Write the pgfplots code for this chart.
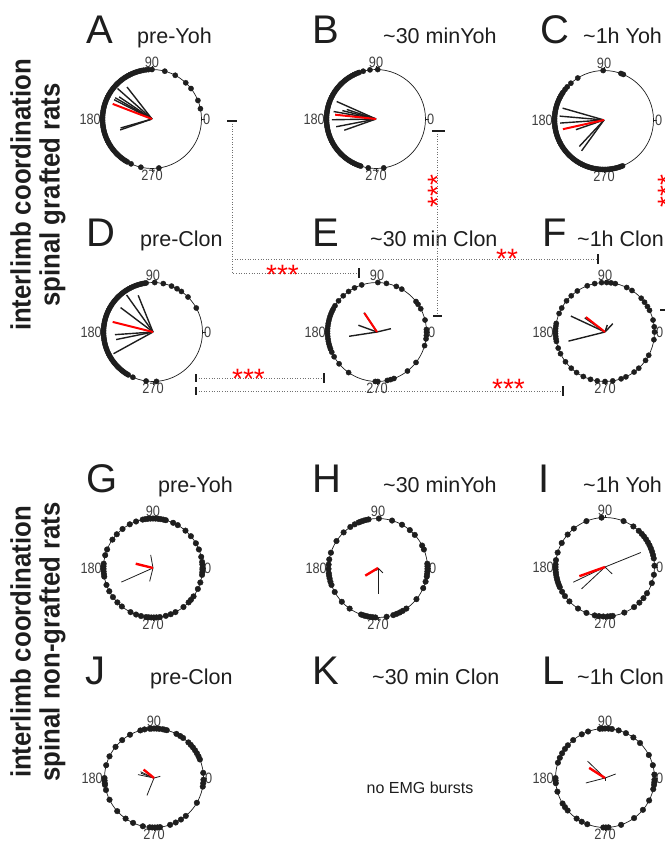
\documentclass[border=0pt]{standalone}
\usepackage{pgfplots}
\pgfplotsset{compat=1.18}
\usepgfplotslibrary{polar}
\usepackage{fontspec}
\setmainfont{Liberation Sans}
\newfontfamily\narrowfont[FakeStretch=0.85]{Liberation Sans}
\newfontfamily\sidefont[FakeStretch=0.92]{Liberation Sans}
\definecolor{ink}{HTML}{1E1E1E}
\definecolor{conn}{HTML}{707070}
\pgfplotsset{
  circ/.style={
    scale only axis, width=99pt, height=99pt, anchor=center,
    ymin=0, ymax=1,
    xtick={0,90,180,270}, xticklabels={0,90,180,270},
    ytick=\empty, grid=none, xmajorgrids=false, ymajorgrids=false,
    axis line style={ink, line width=0.7pt},
    y axis line style={draw=none},
    tick style={ink, line width=0.6pt},
    major tick length=3pt,
    ticklabel style={font=\narrowfont\fontsize{15}{15}\selectfont, text=ink!85, inner sep=1.5pt},
    clip=false,
  },
  dots/.style={only marks, mark=*, mark size=2.6pt, ink, mark options={draw=none, fill=ink}},
  bdots/.style={only marks, mark=*, mark size=2.8pt, ink, mark options={draw=none, fill=ink}},
}
\newcommand{\ray}[2]{\addplot[ink, line width=1.4pt, no marks] coordinates {(0,0) (#1,#2)};}
\newcommand{\tray}[2]{\addplot[ink, line width=0.8pt, no marks] coordinates {(0,0) (#1,#2)};}
\newcommand{\rray}[2]{\addplot[red, line width=2pt, no marks] coordinates {(0,0) (#1,#2)};}
\newcommand{\trray}[2]{\addplot[red, line width=2.4pt, no marks] coordinates {(0,0) (#1,#2)};}
\begin{document}
\begin{tikzpicture}[x=1pt,y=1pt]
\useasboundingbox (0,0) rectangle (664,-845);
% ---------- titles ----------
\tikzset{let/.style={anchor=base west, inner sep=0, text=ink, font=\fontsize{40}{40}\selectfont},
         sub/.style={anchor=base west, inner sep=0, text=ink, font=\fontsize{21.5}{21.5}\selectfont}}
\node[let] at (86,-44) {A};  \node[sub] at (137,-44) {pre-Yoh};
\node[let] at (312,-44) {B}; \node[sub] at (383,-44) {\textasciitilde30 minYoh};
\node[let] at (540,-44) {C}; \node[sub] at (583,-44) {\textasciitilde1h Yoh};
\node[let] at (86,-246) {D};  \node[sub] at (140,-246) {pre-Clon};
\node[let] at (312,-246) {E}; \node[sub] at (370,-246) {\textasciitilde30 min Clon};
\node[let] at (542,-246) {F}; \node[sub] at (577,-246) {\textasciitilde1h Clon};
\node[let] at (86,-492) {G};  \node[sub] at (158,-492) {pre-Yoh};
\node[let] at (312,-492) {H}; \node[sub] at (383,-492) {\textasciitilde30 minYoh};
\node[let] at (538,-492) {I}; \node[sub] at (583,-492) {\textasciitilde1h Yoh};
\node[let] at (85,-684) {J};  \node[sub] at (150,-684) {pre-Clon};
\node[let] at (312,-684) {K}; \node[sub] at (372,-684) {\textasciitilde30 min Clon};
\node[let] at (542,-684) {L}; \node[sub] at (577,-684) {\textasciitilde1h Clon};
\node[inner sep=0, text=ink, font=\fontsize{16}{16}\selectfont] at (420,-788) {no EMG bursts};
% side titles
\node[rotate=90, align=center, inner sep=0, text=ink, font=\sidefont\bfseries\fontsize{28}{29}\selectfont] at (38,-195) {interlimb coordination\\spinal grafted rats};
\node[rotate=90, align=center, inner sep=0, text=ink, font=\sidefont\bfseries\fontsize{28}{29}\selectfont] at (38,-642) {interlimb coordination\\spinal non-grafted rats};
% ---------- connectors ----------
\tikzset{cl/.style={conn, line width=0.8pt, dash pattern=on 1pt off 1.6pt},
         tk/.style={ink, line width=1.1pt},
         st/.style={inner sep=0, text=red, font=\fontsize{28}{28}\selectfont}}
\draw[cl] (232,-121) -- (232,-273) -- (359,-273);
\draw[cl] (232,-259) -- (598,-259);
\draw[tk] (227,-121) -- (237,-121);
\draw[tk] (359,-268) -- (359,-278);
\draw[tk] (598,-254) -- (598,-264);
\node[st, anchor=base west] at (266,-284) {***};
\node[st, anchor=base west] at (496,-268) {**};
\draw[cl] (437,-131) -- (437,-316);
\draw[tk] (432,-131) -- (445,-131);
\draw[tk] (433,-316) -- (442,-316);
\node[st, rotate=90] at (438,-191) {***};
\node[st, rotate=90] at (668,-191) {***};
\draw[tk] (660,-310) -- (670,-310);
\draw[cl] (196,-378) -- (324,-378);
\draw[tk] (196,-374) -- (196,-382);
\draw[tk] (324,-373) -- (324,-383);
\node[st, anchor=base west] at (232,-388) {***};
\draw[cl] (196,-391) -- (563,-391);
\draw[tk] (196,-387) -- (196,-395);
\draw[tk] (563,-386) -- (563,-396);
\node[st, anchor=base west] at (492,-398) {***};
% ---------- A ----------
\begin{polaraxis}[circ, at={(152pt,-119pt)}]
\addplot[dots] coordinates {(12,1)(22,1)(38,1)(47,1)(62,1)(75,1)(90,1)(94,1)(97,1)(100,1)(102,1)(104,1)(106,1)(108,1)(110,1)(112,1)(114,1)(116,1)(118,1)(120,1)(122,1)(124,1)(126,1)(128,1)(130,1)(132,1)(134,1)(136,1)(138,1)(140,1)(142,1)(144,1)(146,1)(148,1)(150,1)(152,1)(154,1)(156,1)(158,1)(160,1)(162,1)(164,1)(166,1)(168,1)(170,1)(172,1)(174,1)(176,1)(178,1)(180,1)(182,1)(184,1)(186,1)(188,1)(190,1)(192,1)(194,1)(196,1)(198,1)(200,1)(202,1)(204,1)(206,1)(208,1)(210,1)(212,1)(214,1)(216,1)(218,1)(220,1)(222,1)(224,1)(226,1)(228,1)(230,1)(232,1)(234,1)(236,1)(238,1)(240,1)(245,1)(257,1)(278,1)};
\ray{128}{0.82}\ray{138.5}{0.93}\ray{146}{0.8}\ray{150}{0.86}\ray{153}{0.86}\ray{196}{0.66}\ray{199}{0.68}
\rray{159}{0.85}
\end{polaraxis}
% ---------- B ----------
\begin{polaraxis}[circ, at={(376pt,-119pt)}]
\addplot[dots] coordinates {(88,1)(97,1)(105,1)(110,1)(112,1)(114,1)(116,1)(118,1)(120,1)(122,1)(124,1)(126,1)(128,1)(130,1)(132,1)(134,1)(136,1)(138,1)(140,1)(142,1)(144,1)(146,1)(148,1)(150,1)(152,1)(154,1)(156,1)(158,1)(160,1)(162,1)(164,1)(166,1)(168,1)(170,1)(172,1)(174,1)(176,1)(178,1)(180,1)(182,1)(184,1)(186,1)(188,1)(190,1)(192,1)(194,1)(196,1)(198,1)(200,1)(202,1)(204,1)(206,1)(208,1)(210,1)(212,1)(214,1)(216,1)(218,1)(220,1)(222,1)(224,1)(226,1)(228,1)(230,1)(232,1)(234,1)(236,1)(238,1)(240,1)(242,1)(244,1)(246,1)(248,1)(250,1)(252,1)(261,1)(279,1)};
\ray{156}{0.87}\ray{162}{0.62}\ray{166}{0.7}\ray{170}{0.87}\ray{181}{0.89}\ray{191}{0.82}\ray{199.5}{0.68}
\rray{174}{0.83}
\end{polaraxis}
% ---------- C ----------
\begin{polaraxis}[circ, at={(604pt,-120pt)}]
\addplot[dots] coordinates {(67,1)(70,1)(91,1)(122,1)(132,1)(138,1)(142,1)(146,1)(148,1)(150,1)(152,1)(154,1)(156,1)(158,1)(160,1)(162,1)(164,1)(166,1)(168,1)(170,1)(172,1)(174,1)(176,1)(178,1)(180,1)(182,1)(184,1)(186,1)(188,1)(190,1)(192,1)(194,1)(196,1)(198,1)(200,1)(202,1)(204,1)(206,1)(208,1)(210,1)(212,1)(214,1)(216,1)(218,1)(220,1)(222,1)(224,1)(226,1)(228,1)(230,1)(232,1)(234,1)(236,1)(238,1)(240,1)(242,1)(244,1)(246,1)(248,1)(250,1)(252,1)(254,1)(256,1)(258,1)(260,1)(262,1)(264,1)(266,1)(268,1)(270,1)(272,1)(274,1)(276,1)(278,1)(280,1)(282,1)(284,1)(286,1)(288,1)(290,1)(292,1)};
\ray{164}{0.87}\ray{175}{0.9}\ray{184}{0.89}\ray{199}{0.6}\ray{227}{0.73}\ray{234}{0.77}
\rray{192.6}{0.85}
\end{polaraxis}
% ---------- D ----------
\begin{polaraxis}[circ, at={(153pt,-332pt)}]
\addplot[dots] coordinates {(29,1)(45,1)(55,1)(61,1)(68,1)(78,1)(88,1)(98,1)(100,1)(102,1)(104,1)(106,1)(108,1)(110,1)(112,1)(114,1)(116,1)(118,1)(120,1)(122,1)(124,1)(126,1)(128,1)(130,1)(132,1)(134,1)(136,1)(138,1)(140,1)(142,1)(144,1)(146,1)(148,1)(150,1)(152,1)(154,1)(156,1)(158,1)(160,1)(162,1)(164,1)(166,1)(168,1)(170,1)(172,1)(174,1)(176,1)(178,1)(180,1)(182,1)(184,1)(186,1)(188,1)(190,1)(192,1)(194,1)(196,1)(198,1)(200,1)(202,1)(204,1)(206,1)(208,1)(210,1)(212,1)(214,1)(216,1)(218,1)(220,1)(222,1)(224,1)(226,1)(228,1)(230,1)(232,1)(234,1)(236,1)(238,1)(240,1)(246,1)(262,1)(274,1)};
\ray{112}{0.8}\ray{125.5}{0.92}\ray{143}{0.82}\ray{184}{0.77}\ray{191.6}{0.76}\ray{208.8}{0.91}
\rray{166}{0.84}
\end{polaraxis}
% ---------- E ----------
\begin{polaraxis}[circ, at={(377pt,-332pt)}]
\addplot[dots] coordinates {(0,1)(3,1)(14,1)(28,1)(34,1)(38,1)(60,1)(67,1)(79,1)(89,1)(108,1)(117,1)(125,1)(133,1)(141,1)(148,1)(152,1)(155,1)(158,1)(161,1)(164,1)(167,1)(170,1)(173,1)(176,1)(179,1)(182,1)(185,1)(188,1)(191,1)(194,1)(197,1)(200,1)(204,1)(210,1)(220,1)(235,1)(268,1)(271,1)(282,1)(286,1)(290,1)(308,1)(322,1)(344,1)(352,1)(356,1)};
\ray{124}{0.47}\ray{160}{0.4}\ray{188.7}{0.57}\ray{13.4}{0.29}
\rray{123.7}{0.46}
\end{polaraxis}
% ---------- F ----------
\begin{polaraxis}[circ, at={(605pt,-332pt)}]
\addplot[dots] coordinates {(0,1)(6,1)(14,1)(26,1)(31,1)(37,1)(43,1)(57,1)(64,1)(78,1)(83,1)(88,1)(94,1)(102,1)(111,1)(124,1)(133,1)(141,1)(151,1)(158,1)(170,1)(173,1)(176,1)(179,1)(182,1)(185,1)(188,1)(191,1)(199,1)(206,1)(217,1)(227,1)(235,1)(244,1)(253,1)(261,1)(270,1)(279,1)(289,1)(295,1)(306,1)(313,1)(325,1)(332,1)(351,1)};
\ray{155}{0.76}\ray{194}{0.76}\ray{47}{0.23}\ray{72}{0.15}\ray{145}{0.5}
\rray{142}{0.49}
\end{polaraxis}
% ---------- G ----------
\begin{polaraxis}[circ, at={(153pt,-568pt)}]
\addplot[bdots] coordinates {(0,1)(4,1)(7,1)(13,1)(22,1)(30,1)(40,1)(49,1)(60,1)(66,1)(75,1)(78,1)(81,1)(84,1)(87,1)(90,1)(93,1)(96,1)(99,1)(102,1)(110,1)(118,1)(128,1)(137,1)(145,1)(158,1)(165,1)(175,1)(178,1)(181,1)(184,1)(187,1)(190,1)(200,1)(208,1)(216,1)(224,1)(231,1)(243,1)(250,1)(256,1)(262,1)(265,1)(268,1)(271,1)(274,1)(278,1)(285,1)(291,1)(297,1)(308,1)(316,1)(320,1)(325,1)(335,1)(343,1)(352,1)(355,1)(358,1)};
\tray{204}{0.7}\tray{100}{0.27}\tray{256}{0.28}
\trray{166}{0.36}
\end{polaraxis}
% ---------- H ----------
\begin{polaraxis}[circ, at={(378pt,-568pt)}]
\addplot[bdots] coordinates {(2,1)(5,1)(22,1)(27,1)(42,1)(50,1)(61,1)(73.5,1)(89,1)(101,1)(104,1)(107,1)(110,1)(113,1)(118,1)(124,1)(134,1)(147,1)(162,1)(170,1)(176,1)(181,1)(186,1)(189,1)(192,1)(196,1)(200,1)(209,1)(223,1)(235,1)(250,1)(253,1)(255,1)(258,1)(261,1)(264,1)(267,1)(280,1)(288,1)(292,1)(296,1)(300,1)(305,1)(321,1)(336,1)(344,1)(350,1)(353,1)(356,1)(359,1)};
\tray{270}{0.53}\tray{315}{0.14}\tray{240}{0.06}
\trray{211}{0.3}
\end{polaraxis}
% ---------- I ----------
\begin{polaraxis}[circ, at={(605pt,-567pt)}]
\addplot[bdots] coordinates {(1.5,1)(10,1)(14,1)(18,1)(22,1)(26,1)(30,1)(34,1)(38,1)(42,1)(47,1)(55,1)(68,1)(94,1)(112,1)(129,1)(139,1)(151,1)(163,1)(172,1)(177,1)(180,1)(183,1)(186,1)(189,1)(192,1)(195,1)(198,1)(201,1)(204,1)(210,1)(216,1)(224,1)(237,1)(248,1)(258,1)(263,1)(268,1)(273,1)(276,1)(279,1)(293,1)(306,1)(314,1)(321,1)(328,1)(341,1)(351,1)};
\tray{22}{0.78}\tray{205.6}{0.71}\tray{223}{0.65}\tray{316}{0.2}
\trray{199.7}{0.55}
\end{polaraxis}
% ---------- J ----------
\begin{polaraxis}[circ, at={(154pt,-778pt)}]
\addplot[bdots] coordinates {(6,1)(22,1)(26,1)(30,1)(34,1)(38,1)(42,1)(46,1)(54,1)(58,1)(63,1)(75,1)(78,1)(80,1)(84,1)(87,1)(90,1)(93,1)(95,1)(101,1)(106,1)(119,1)(130,1)(141,1)(154,1)(165,1)(180,1)(183,1)(186,1)(188,1)(194,1)(206,1)(222,1)(235,1)(245,1)(257,1)(265,1)(268,1)(271,1)(274,1)(277,1)(289,1)(296,1)(303,1)(310,1)(330,1)(350,1)(354,1)(358,1)};
\tray{248}{0.38}\tray{168}{0.33}\tray{155}{0.3}\tray{160}{0.28}\tray{15}{0.13}
\trray{141}{0.27}
\end{polaraxis}
% ---------- L ----------
\begin{polaraxis}[circ, at={(605pt,-778pt)}]
\addplot[bdots] coordinates {(4,1)(15,1)(27.7,1)(45,1)(55,1)(65,1)(74,1)(82,1)(86,1)(90,1)(93,1)(96,1)(110,1)(118,1)(130,1)(138.6,1)(144,1)(150,1)(156,1)(162,1)(180,1)(183,1)(186,1)(196,1)(211,1)(216,1)(221,1)(235,1)(242,1)(249,1)(268,1)(271,1)(274,1)(289,1)(306,1)(320,1)(333,1)(347,1)(352,1)(355,1)(358,1)};
\tray{136}{0.49}\tray{194.5}{0.4}\tray{20.6}{0.23}\tray{270}{0.07}
\trray{147.4}{0.38}
\end{polaraxis}
\end{tikzpicture}
\end{document}
